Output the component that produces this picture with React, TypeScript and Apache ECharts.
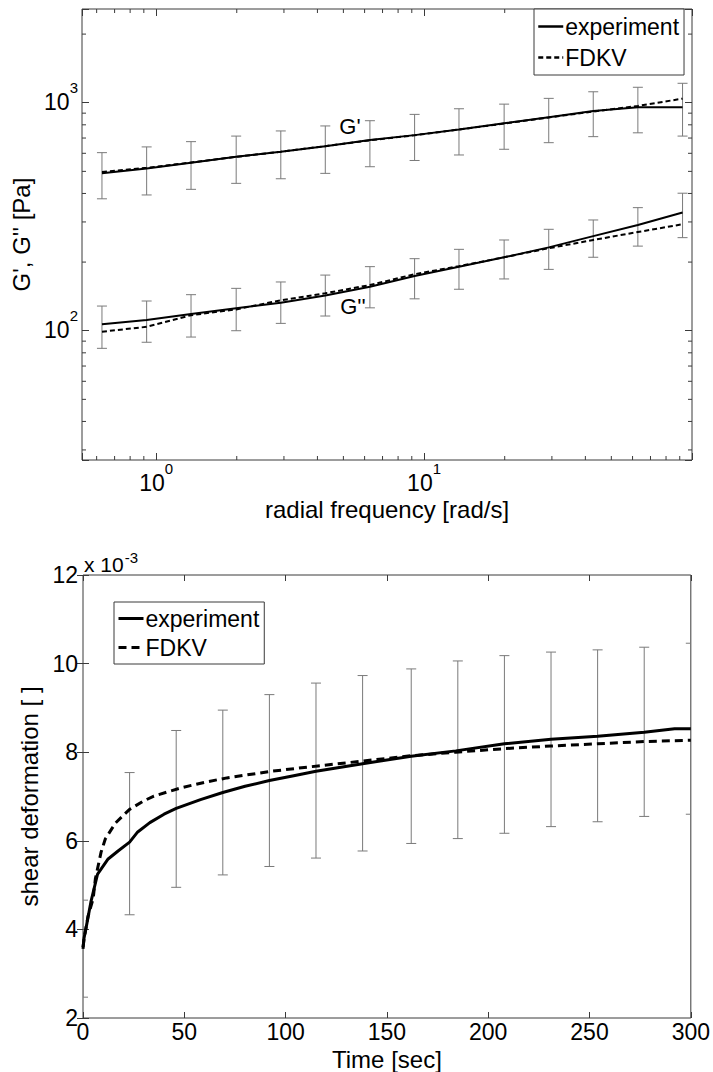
import React, { useEffect, useRef } from "react";
import * as echarts from "echarts";

// ---------- top plot: dynamic moduli ----------
const FREQ = [0.628, 0.922, 1.35, 1.99, 2.92, 4.28, 6.28, 9.22, 13.5, 19.9, 29.2, 42.8, 62.8, 92.2];
const GP_EXP = [490, 515, 546, 580, 610, 645, 686, 721, 764, 813, 863, 920, 955, 955];
const GP_FIT = [497, 518, 547, 579, 610, 645, 684, 720, 763, 810, 862, 915, 968, 1042];
const GP_LOW = [379, 394, 417, 443, 464, 490, 524, 558, 590, 625, 668, 710, 738, 714];
const GP_HIGH = [604, 640, 675, 714, 752, 791, 834, 889, 941, 986, 1045, 1117, 1169, 1217];
const GPP_EXP = [106.7, 111.4, 118.4, 125.4, 132.7, 142.6, 156, 173.8, 191, 210, 232, 260, 291, 330];
const GPP_FIT = [99, 104, 117, 124, 136, 146, 158.6, 177, 192, 210, 230, 250, 271, 293];
const GPP_LOW = [83.7, 89, 93.8, 100, 107.7, 116, 126, 138, 152, 168.7, 185.8, 210, 235, 256];
const GPP_HIGH = [128.3, 135, 143.9, 153.4, 163.6, 175.4, 191, 207, 227.5, 250, 278.5, 306, 346.6, 401];
const X_MINOR_TICKS = [0.6, 0.7, 0.8, 0.9, 2, 3, 4, 5, 6, 7, 8, 9, 20, 30, 40, 50, 60, 70, 80, 90];
const Y_MINOR_TICKS = [30, 40, 50, 60, 70, 80, 90, 200, 300, 400, 500, 600, 700, 800, 900, 2000];
const TOP_X_MIN = 0.529;
const TOP_X_MAX = 100;
const TOP_Y_MIN = 27.1;
const TOP_Y_MAX = 2577;

// ---------- bottom plot: creep (values in units of 1e-3) ----------
const T_EXP = [0, 0.5, 1.7, 3.9, 7.2, 12.4, 17.3, 23, 27, 33, 40, 46, 58, 69, 80, 92, 104, 115, 138, 162, 184, 208, 231, 254, 277, 292, 300];
const SHEAR_EXP = [3.56, 3.8, 4.08, 4.62, 5.25, 5.59, 5.77, 5.97, 6.2, 6.41, 6.6, 6.73, 6.93, 7.09, 7.23, 7.36, 7.47, 7.57, 7.74, 7.91, 8.03, 8.19, 8.29, 8.36, 8.45, 8.53, 8.53];
const T_FIT = [0, 0.5, 2.5, 5, 6.1, 8.9, 11, 16, 23, 30, 35, 48.7, 60, 71, 93, 116, 138, 162, 184, 208, 231, 254, 277, 300];
const SHEAR_FIT = [3.6, 3.78, 4.3, 4.69, 5.14, 5.74, 6.04, 6.4, 6.71, 6.9, 7.01, 7.2, 7.32, 7.42, 7.57, 7.69, 7.8, 7.92, 8.0, 8.08, 8.14, 8.19, 8.24, 8.27];
const T_ERR = [0, 23, 46, 69, 92, 115, 138, 162, 185, 208, 231, 254, 277, 300];
const SHEAR_LOW = [2.47, 4.33, 4.95, 5.23, 5.42, 5.61, 5.77, 5.94, 6.05, 6.17, 6.32, 6.43, 6.55, 6.6];
const SHEAR_HIGH = [4.66, 7.54, 8.49, 8.95, 9.3, 9.56, 9.73, 9.88, 10.06, 10.18, 10.26, 10.31, 10.37, 10.46];

const FONT = "'Liberation Sans', Arial, Helvetica, sans-serif";
const FRAME = "#3a3a3a";
const ERR = "#7a7a7a";

const errorRender = (params: any, api: any) => {
  const x = api.value(0);
  const p1 = api.coord([x, api.value(1)]);
  const p2 = api.coord([x, api.value(2)]);
  const w = 5;
  const st = { stroke: ERR, lineWidth: 1 };
  return {
    type: "group",
    children: [
      { type: "line", shape: { x1: p1[0], y1: p1[1], x2: p2[0], y2: p2[1] }, style: st },
      { type: "line", shape: { x1: p1[0] - w, y1: p1[1], x2: p1[0] + w, y2: p1[1] }, style: st },
      { type: "line", shape: { x1: p2[0] - w, y1: p2[1], x2: p2[0] + w, y2: p2[1] }, style: st },
    ],
  };
};

const powLabel = (allowed: number[]) => (v: number) => {
  const l = Math.log10(v);
  const r = Math.round(l);
  if (Math.abs(l - r) < 1e-6 && allowed.indexOf(r) >= 0) return `{b|10}{s|${r}}`;
  return "";
};

const RICH = {
  b: { fontSize: 23, fontFamily: FONT, color: "#000", padding: [10, 0, 0, 0], verticalAlign: "bottom" },
  s: { fontSize: 15, fontFamily: FONT, color: "#000", verticalAlign: "top" },
};

const HIDE_SYMBOL = { opacity: 0, borderWidth: 0, color: "transparent", borderColor: "transparent" };

export default function App() {
  const ref = useRef<HTMLDivElement>(null);
  useEffect(() => {
    if (!ref.current) return;
    const chart = echarts.init(ref.current, null, { renderer: "svg" });
    const tickStyle = { color: FRAME, width: 1 };
    const nameStyle = { fontSize: 24, color: "#000", fontFamily: FONT };
    const legendText = { fontSize: 23, color: "#000", fontFamily: FONT, padding: [0, 0, 0, -3] };
    const option: any = {
      animation: false,
      backgroundColor: "#fff",
      textStyle: { fontFamily: FONT },
      grid: [
        { left: 82, top: 9, width: 610, height: 451, show: true, borderColor: FRAME, borderWidth: 1, backgroundColor: "transparent" },
        { left: 83, top: 575, width: 609, height: 444, show: true, borderColor: FRAME, borderWidth: 1, backgroundColor: "transparent" },
      ],
      xAxis: [
        {
          gridIndex: 0, type: "log", min: TOP_X_MIN, max: TOP_X_MAX, position: "bottom",
          axisLine: { show: false }, splitLine: { show: false },
          axisTick: { inside: true, length: 7, lineStyle: tickStyle },
          axisLabel: { formatter: powLabel([0, 1]), rich: RICH, margin: 1 },
          name: "radial frequency [rad/s]", nameLocation: "middle", nameGap: 37, nameTextStyle: nameStyle,
        },
        {
          gridIndex: 0, type: "log", min: TOP_X_MIN, max: TOP_X_MAX, position: "top",
          axisLine: { show: false }, splitLine: { show: false },
          axisTick: { inside: true, length: 7, lineStyle: tickStyle }, axisLabel: { show: false },
        },
        {
          gridIndex: 1, type: "value", min: 0, max: 300, interval: 50, position: "bottom",
          axisLine: { show: false }, splitLine: { show: false },
          axisTick: { inside: true, length: 6, lineStyle: tickStyle },
          axisLabel: { fontSize: 23, color: "#000", fontFamily: FONT, margin: 2 },
          name: "Time [sec]", nameLocation: "middle", nameGap: 29, nameTextStyle: nameStyle,
        },
        {
          gridIndex: 1, type: "value", min: 0, max: 300, interval: 50, position: "top",
          axisLine: { show: false }, splitLine: { show: false },
          axisTick: { inside: true, length: 6, lineStyle: tickStyle }, axisLabel: { show: false },
        },
      ],
      yAxis: [
        {
          gridIndex: 0, type: "log", min: TOP_Y_MIN, max: TOP_Y_MAX, position: "left",
          axisLine: { show: false }, splitLine: { show: false },
          axisTick: { inside: true, length: 7, lineStyle: tickStyle },
          axisLabel: { formatter: powLabel([2, 3]), rich: RICH, margin: 4, padding: [0, 0, 12, 0] },
          name: "G', G'' [Pa]", nameLocation: "middle", nameGap: 40, nameTextStyle: nameStyle,
        },
        {
          gridIndex: 0, type: "log", min: TOP_Y_MIN, max: TOP_Y_MAX, position: "right",
          axisLine: { show: false }, splitLine: { show: false },
          axisTick: { inside: true, length: 7, lineStyle: tickStyle }, axisLabel: { show: false },
        },
        {
          gridIndex: 1, type: "value", min: 2, max: 12, interval: 2, position: "left",
          axisLine: { show: false }, splitLine: { show: false },
          axisTick: { inside: true, length: 6, lineStyle: tickStyle },
          axisLabel: { fontSize: 23, color: "#000", fontFamily: FONT, margin: 5 },
          name: "shear deformation [ ]", nameLocation: "middle", nameGap: 31, nameTextStyle: nameStyle,
        },
        {
          gridIndex: 1, type: "value", min: 2, max: 12, interval: 2, position: "right",
          axisLine: { show: false }, splitLine: { show: false },
          axisTick: { inside: true, length: 6, lineStyle: tickStyle }, axisLabel: { show: false },
        },
      ],
      legend: [
        {
          data: [
            { name: "experiment", itemStyle: HIDE_SYMBOL, lineStyle: { width: 2.5, color: "#000" } },
            { name: "FDKV", itemStyle: HIDE_SYMBOL, lineStyle: { width: 2.5, type: [5, 3], color: "#000" } },
          ],
          left: 534, top: 9, orient: "vertical",
          itemWidth: 25, itemHeight: 14, itemGap: 8, padding: [6, 5, 6, 3],
          borderColor: FRAME, borderWidth: 1, borderRadius: 0, backgroundColor: "#fff",
          selectedMode: false, itemStyle: HIDE_SYMBOL,
          textStyle: legendText,
        },
        {
          data: [
            { name: "experiment", itemStyle: HIDE_SYMBOL, lineStyle: { width: 3, color: "#000" } },
            { name: "FDKV", itemStyle: HIDE_SYMBOL, lineStyle: { width: 3, type: [8, 5], color: "#000" } },
          ],
          left: 114, top: 602, orient: "vertical",
          itemWidth: 25, itemHeight: 14, itemGap: 6, padding: [5, 5, 5, 3],
          borderColor: FRAME, borderWidth: 1, borderRadius: 0, backgroundColor: "#fff",
          selectedMode: false, itemStyle: HIDE_SYMBOL,
          textStyle: legendText,
        },
      ],
      graphic: [
        { type: "text", x: 350, y: 126, style: { text: "G'", fontSize: 22, fontFamily: FONT, fill: "#000", align: "center", verticalAlign: "middle" } },
        { type: "text", x: 353, y: 306, style: { text: "G''", fontSize: 22, fontFamily: FONT, fill: "#000", align: "center", verticalAlign: "middle" } },
        {
          type: "text", x: 84, y: 564,
          style: {
            text: "x 10{s|-3}", fontSize: 21, fontFamily: FONT, fill: "#000", align: "left", verticalAlign: "middle",
            rich: { s: { fontSize: 15, fontFamily: FONT, fill: "#000", verticalAlign: "top", padding: [0, 0, 14, 1] } },
          },
        },
      ],
      series: [
        // top: error bars
        { type: "custom", xAxisIndex: 0, yAxisIndex: 0, silent: true, clip: true, renderItem: errorRender, encode: { x: 0, y: [1, 2] }, data: FREQ.map((f, i) => [f, GP_LOW[i], GP_HIGH[i]]), z: 2 },
        { type: "custom", xAxisIndex: 0, yAxisIndex: 0, silent: true, clip: true, renderItem: errorRender, encode: { x: 0, y: [1, 2] }, data: FREQ.map((f, i) => [f, GPP_LOW[i], GPP_HIGH[i]]), z: 2 },
        // top: minor ticks
        {
          type: "custom", xAxisIndex: 0, yAxisIndex: 0, silent: true, z: 1,
          data: X_MINOR_TICKS.map((v) => [v, 100]),
          renderItem: (params: any, api: any) => {
            const cs = params.coordSys;
            const x = api.coord([api.value(0), 100])[0];
            const st = { stroke: FRAME, lineWidth: 1 };
            return {
              type: "group",
              children: [
                { type: "line", shape: { x1: x, y1: cs.y + cs.height, x2: x, y2: cs.y + cs.height - 4 }, style: st },
                { type: "line", shape: { x1: x, y1: cs.y, x2: x, y2: cs.y + 4 }, style: st },
              ],
            };
          },
        },
        {
          type: "custom", xAxisIndex: 0, yAxisIndex: 0, silent: true, z: 1,
          data: Y_MINOR_TICKS.map((v) => [1, v]),
          renderItem: (params: any, api: any) => {
            const cs = params.coordSys;
            const y = api.coord([1, api.value(1)])[1];
            const st = { stroke: FRAME, lineWidth: 1 };
            return {
              type: "group",
              children: [
                { type: "line", shape: { x1: cs.x, y1: y, x2: cs.x + 4, y2: y }, style: st },
                { type: "line", shape: { x1: cs.x + cs.width, y1: y, x2: cs.x + cs.width - 4, y2: y }, style: st },
              ],
            };
          },
        },
        // top: lines
        { name: "experiment", type: "line", xAxisIndex: 0, yAxisIndex: 0, symbol: "none", data: FREQ.map((f, i) => [f, GP_EXP[i]]), lineStyle: { color: "#000", width: 2 }, itemStyle: { color: "#000" }, z: 3 },
        { name: "FDKV", type: "line", xAxisIndex: 0, yAxisIndex: 0, symbol: "none", data: FREQ.map((f, i) => [f, GP_FIT[i]]), lineStyle: { color: "#000", width: 2, type: [5, 3] }, itemStyle: { color: "#000" }, z: 3 },
        { name: "experiment", type: "line", xAxisIndex: 0, yAxisIndex: 0, symbol: "none", data: FREQ.map((f, i) => [f, GPP_EXP[i]]), lineStyle: { color: "#000", width: 2 }, itemStyle: { color: "#000" }, z: 3 },
        { name: "FDKV", type: "line", xAxisIndex: 0, yAxisIndex: 0, symbol: "none", data: FREQ.map((f, i) => [f, GPP_FIT[i]]), lineStyle: { color: "#000", width: 2, type: [5, 3] }, itemStyle: { color: "#000" }, z: 3 },
        // bottom
        { type: "custom", xAxisIndex: 2, yAxisIndex: 2, silent: true, clip: true, renderItem: errorRender, encode: { x: 0, y: [1, 2] }, data: T_ERR.map((t, i) => [t, SHEAR_LOW[i], SHEAR_HIGH[i]]), z: 2 },
        { name: "experiment", type: "line", xAxisIndex: 2, yAxisIndex: 2, symbol: "none", data: T_EXP.map((t, i) => [t, SHEAR_EXP[i]]), lineStyle: { color: "#000", width: 3 }, itemStyle: { color: "#000" }, z: 3 },
        { name: "FDKV", type: "line", xAxisIndex: 2, yAxisIndex: 2, symbol: "none", data: T_FIT.map((t, i) => [t, SHEAR_FIT[i]]), lineStyle: { color: "#000", width: 3, type: [8, 5] }, itemStyle: { color: "#000" }, z: 3 },
      ],
    };
    chart.setOption(option);
    return () => chart.dispose();
  }, []);
  return (
    <div
      ref={ref}
      style={{ position: "absolute", left: 0, top: 0, width: 713, height: 1072, background: "#fff" }}
    />
  );
}
